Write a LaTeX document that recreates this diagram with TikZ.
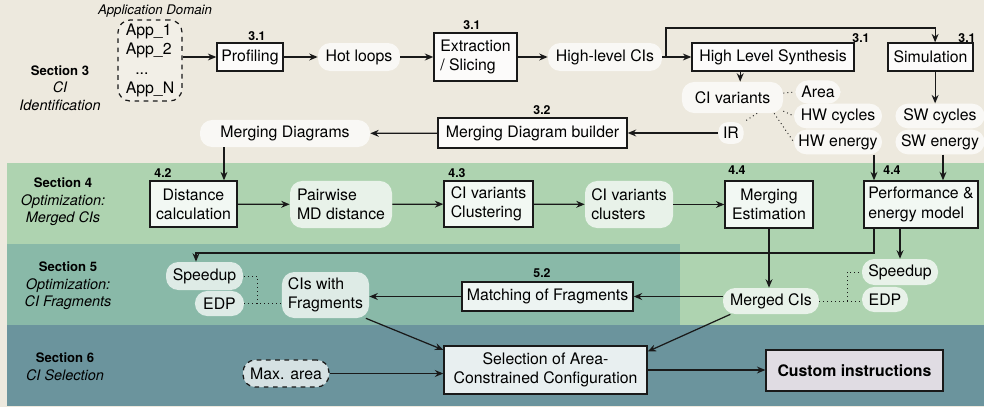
\documentclass[tikz,border=0pt]{standalone}
\usepackage{fontspec}
\setmainfont{TeX Gyre Heros}
\usetikzlibrary{arrows.meta}

\definecolor{secthree}{RGB}{237,233,222}
\definecolor{secfour}{RGB}{174,211,176}
\definecolor{secfive}{RGB}{137,185,168}
\definecolor{secsix}{RGB}{107,148,157}
\definecolor{custfill}{RGB}{224,220,227}
\definecolor{linecol}{RGB}{25,25,25}

\newcommand{\secheadfont}{\fontsize{8.5}{11.4}\selectfont\bfseries\upshape}

\tikzset{
	box/.style={draw=linecol, line width=0.85pt, fill=white, fill opacity=0.85, text opacity=1, inner sep=2pt},
	pill/.style={fill=white, fill opacity=0.72, text opacity=1, rounded corners=8pt, inner sep=2pt},
	dashpill/.style={pill, draw=linecol, dashed, line width=0.8pt, draw opacity=1},
	arr/.style={draw=linecol, line width=0.8pt, -{Stealth[length=5.5pt,width=4.5pt]}},
	dots/.style={draw=linecol, line width=0.6pt, dotted},
	secnum/.style={font=\fontsize{8}{9}\selectfont\bfseries, inner sep=0pt},
	seclabel/.style={align=center, font=\fontsize{9.4}{11.4}\selectfont\itshape},
}

\begin{document}
\begin{tikzpicture}[x=0.65pt, y=-0.65pt, font=\fontsize{10.3}{12.5}\selectfont]
		\useasboundingbox (0,0) rectangle (984,407);
		\fill[secthree] (0,0) rectangle (984,407);
		\fill[secfour] (7,163) rectangle (984,325);
		\fill[secfive] (7,244) rectangle (680,325);
		\fill[secsix] (7,325) rectangle (984,406);

		\node[seclabel] (sthree) at (60,88) {{\secheadfont Section 3}\\CI\\Identification};
		\node[seclabel] (sfour) at (63,202) {{\secheadfont Section 4}\\Optimization:\\Merged CIs};
		\node[seclabel] (sfive) at (68,286) {{\secheadfont Section 5}\\Optimization:\\CI Fragments};
		\node[seclabel] (ssix) at (65,367) {{\secheadfont Section 6}\\CI Selection};

		\node[font=\fontsize{8.6}{10}\selectfont\itshape] (dom) at (155,11) {Application Domain};
		\node[dashpill, fill opacity=0.3, align=left, minimum width=41.6pt, minimum height=52.7pt] (apps) at (150,60.5) {App\_1\\App\_2\\\hspace{0.6em}...\\App\_N};

		\node[box, minimum width=42.9pt, minimum height=18.2pt] (prof) at (250,57) {Profiling};
		\node[pill, minimum width=53.3pt, minimum height=18.2pt] (hot) at (359,57) {Hot loops};
		\node[box, align=left, minimum width=54pt, minimum height=31.2pt] (extr) at (475.5,57) {Extraction\\/ Slicing};
		\node[pill, minimum width=74.1pt, minimum height=18.2pt] (hlcis) at (605,57) {High-level CIs};
		\node[box, minimum width=105.3pt, minimum height=18.2pt] (hls) at (773,57) {High Level Synthesis};
		\node[box, minimum width=55.3pt, minimum height=18.2pt] (sim) at (930.5,57) {Simulation};

		\node[pill, minimum width=65.7pt, minimum height=20.2pt] (civar) at (732.5,97.5) {CI variants};
		\node[pill, minimum width=29.3pt, minimum height=15pt] (area) at (818,92) {Area};
		\node[pill, minimum width=57.2pt, minimum height=16pt] (hwcyc) at (838,116) {HW cycles};
		\node[pill, minimum width=57.2pt, minimum height=16pt] (hwen) at (838,142) {HW energy};
		\node[pill, minimum width=57.9pt, minimum height=16pt] (swcyc) at (940,116) {SW cycles};
		\node[pill, minimum width=57.9pt, minimum height=16pt] (swen) at (940,142) {SW energy};
		\node[pill, rounded corners=6pt, minimum width=16.3pt, minimum height=14pt] (ir) at (731,133) {IR};

		\node[pill, minimum width=110.5pt, minimum height=17.6pt] (mdd) at (285,133.5) {Merging Diagrams};
		\node[box, minimum width=122.9pt, minimum height=19.5pt] (mdb) at (532.5,133) {Merging Diagram builder};

		\node[box, align=center, minimum width=56.6pt, minimum height=29.9pt] (dist) at (193.5,204) {Distance\\calculation};
		\node[pill, align=left, minimum width=66.3pt, minimum height=30.6pt] (pair) at (341,204.5) {Pairwise\\MD distance};
		\node[box, align=left, minimum width=57.9pt, minimum height=29.9pt] (clust) at (488.5,204) {CI variants\\Clustering};
		\node[pill, align=left, minimum width=57.2pt, minimum height=30.6pt] (clus) at (629,204.5) {CI variants\\clusters};
		\node[box, align=center, minimum width=57.2pt, minimum height=30.6pt] (merge) at (769,204.5) {Merging\\Estimation};
		\node[box, align=left, minimum width=74.1pt, minimum height=30.6pt] (perf) at (921,204.5) {Performance \&\\energy model};

		\node[pill, minimum width=50pt, minimum height=18.2pt] (speedL) at (204.5,276) {Speedup};
		\node[pill, minimum width=31.9pt, minimum height=16.3pt] (edpL) at (219.5,303.5) {EDP};
		\node[pill, align=left, minimum width=56.6pt, minimum height=29.9pt] (ciwf) at (325.5,295) {CIs with\\Fragments};
		\node[box, minimum width=111.2pt, minimum height=18.9pt] (match) at (547.5,296.5) {Matching of Fragments};
		\node[pill, minimum width=62.4pt, minimum height=16.9pt] (merged) at (771,301) {Merged CIs};
		\node[pill, minimum width=49.4pt, minimum height=16.9pt] (speedR) at (900,272) {Speedup};
		\node[pill, minimum width=29.9pt, minimum height=16.3pt] (edpR) at (885,299.5) {EDP};

		\node[dashpill, minimum width=55.9pt, minimum height=17.6pt] (maxa) at (286,373.5) {Max. area};
		\node[box, align=center, minimum width=132pt, minimum height=31.2pt] (sel) at (545.5,370) {Selection of Area-\\Constrained Configuration};
		\node[box, fill=custfill, fill opacity=1, font=\fontsize{10.3}{12.5}\selectfont\bfseries, minimum width=115pt, minimum height=26.7pt] (custom) at (854.5,370.5) {Custom instructions};

		\node[secnum] (nprof) at (257,36) {3.1};
		\node[secnum] (nextr) at (472,25) {3.1};
		\node[secnum] (nhls) at (861,38) {3.1};
		\node[secnum] (nsim) at (967,38) {3.1};
		\node[secnum] (nmdb) at (542,110) {3.2};
		\node[secnum] (ndist) at (163,173) {4.2};
		\node[secnum] (nclust) at (457,173) {4.3};
		\node[secnum] (nmerge) at (737,170) {4.4};
		\node[secnum] (nperf) at (892,170) {4.4};
		\node[secnum] (nmatch) at (542,273) {5.2};

		\coordinate (fork) at (666,57);
		\coordinate (over) at (666,28);
		\coordinate (mdx) at (224,0);
		\coordinate (hwx) at (874,0);
		\coordinate (swx) at (943,0);
		\coordinate (bend) at (196,253);
		\coordinate (dj) at (847,0);
		\coordinate (dlj) at (257,0);

		\draw[arr] (apps.east |- prof.west) -- (prof.west);
		\draw[arr] (prof) -- (hot);
		\draw[arr] (hot) -- (extr);
		\draw[arr] (extr) -- (hlcis);
		\draw[arr] (hlcis) -- (hls);
		\draw[arr] (fork) -- (over) -| ([xshift=3pt]sim.north);
		\draw[arr] ([xshift=5pt]civar.north |- hls.south) -- ([xshift=5pt]civar.north);
		\draw[arr] ([xshift=3pt]sim.south) -- ([xshift=3pt]sim.south |- swcyc.north);

		\draw[dots] (civar.5) -- (area.west);
		\draw[dots] (civar.-15) -- (hwcyc.west);
		\draw[dots] ([xshift=-6pt]civar.south east) -- (hwen.west);
		\draw[dots] ([xshift=16pt]civar.south) -- (ir.north east);

		\draw[arr] (ir) -- (mdb);
		\draw[arr] (mdb) -- (mdd);
		\draw[arr] (mdd.south -| mdx) -- (dist.north -| mdx);

		\draw[arr] (dist) -- (pair);
		\draw[arr] (pair) -- (clust);
		\draw[arr] (clust) -- (clus);
		\draw[arr] (clus) -- (merge);
		\draw[arr] (hwen.south -| hwx) -- (perf.north -| hwx);
		\draw[arr] (swen.south -| swx) -- (perf.north -| swx);

		\draw[arr] (perf.south -| hwx) |- (bend) -- (bend |- speedL.north);
		\draw[arr] (perf.south -| speedR.north) -- (speedR.north);
		\draw[arr] (merge.south) -- (merge.south |- merged.north);
		\draw[arr] (merged.west |- match.east) -- (match.east);
		\draw[arr] (match.west) -- (match.west -| ciwf.east);
		\draw[dots] (merged.east) -- (merged.east -| edpR.west);
		\draw[dots] (merged.east -| dj) |- (speedR.west);
		\draw[dots] (edpL.east) -- (edpL.east -| ciwf.west);
		\draw[dots] (edpL.east -| dlj) |- (speedL.east);

		\draw[arr] (ciwf.-30) -- ([yshift=-3pt]sel.north west);
		\draw[arr] ([xshift=5pt]merged.south west) -- ([yshift=-4pt]sel.north east);
		\draw[arr] (maxa.east) -- (maxa.east -| sel.west);
		\draw[arr] (sel.east) -- (sel.east -| custom.west);
	\end{tikzpicture}
\end{document}
